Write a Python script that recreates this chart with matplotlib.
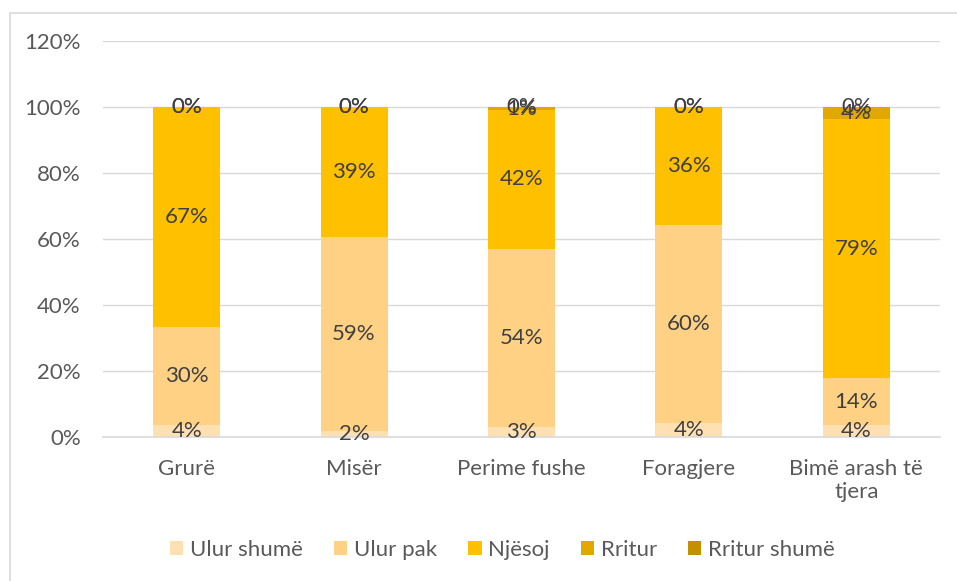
import numpy as np
import matplotlib
matplotlib.use("Agg")
import matplotlib.pyplot as plt
from matplotlib.patches import Rectangle
from matplotlib.ticker import PercentFormatter

plt.rcParams["font.family"] = ["Lato", "DejaVu Sans"]

# =========================
# Data
# =========================
categories = ["Grurë", "Misër", "Perime fushe", "Foragjere", "Bimë arash të\ntjera"]
series_names = ["Ulur shumë", "Ulur pak", "Njësoj", "Rritur", "Rritur shumë"]

ulur_shume = [3.6, 1.8, 2.9, 4.1, 3.6]
ulur_pak = [29.7, 58.8, 54.2, 60.2, 14.2]
njesoj = [66.7, 39.4, 41.9, 35.7, 78.6]
rritur = [0.0, 0.0, 1.0, 0.0, 3.6]
rritur_shume = [0.0, 0.0, 0.0, 0.0, 0.0]

colors = ["#FFE0B2", "#FFD185", "#FFC000", "#E1A800", "#C49000"]

# =========================
# Plot
# =========================
fig = plt.figure(figsize=(9.57, 5.81), dpi=100)
ax = fig.add_axes([0.1076, 0.2478, 0.8746, 0.6816])

# outer frame
fig.patches.append(Rectangle((10 / 957, -0.05), 1.2, 1 - 13 / 581 + 0.05,
                             transform=fig.transFigure, fill=False,
                             edgecolor="#D9D9D9", linewidth=1.2))

x = np.arange(len(categories))
width = 0.4
bottom = np.zeros(len(categories))
all_series = [ulur_shume, ulur_pak, njesoj, rritur, rritur_shume]

for name, vals, col in zip(series_names, all_series, colors):
    vals = np.array(vals)
    ax.bar(x, vals, width, bottom=bottom, color=col, label=name, zorder=2)
    for xi, b, v in zip(x, bottom, vals):
        ax.text(xi, b + v / 2, f"{v:.0f}%", ha="center", va="center",
                fontsize=16, color="#404040", zorder=3)
    bottom += vals

ax.set_xlim(-0.5, len(categories) - 0.5)
ax.set_ylim(0, 120)
ax.set_yticks(np.arange(0, 121, 20))
ax.yaxis.set_major_formatter(PercentFormatter(decimals=0))
ax.set_xticks(x)
ax.set_xticklabels(categories)

ax.grid(axis="y", color="#D9D9D9", linewidth=1, zorder=0)
for s in ["top", "right", "left"]:
    ax.spines[s].set_visible(False)
ax.spines["bottom"].set_color("#D9D9D9")
ax.spines["bottom"].set_linewidth(1.2)
ax.tick_params(axis="both", length=0, labelsize=16, colors="#595959")
ax.tick_params(axis="y", pad=16)
ax.tick_params(axis="x", pad=16)

fig.legend(loc="center", bbox_to_anchor=(0.525, 0.053), ncol=5, frameon=False,
           fontsize=16, handlelength=0.6, handleheight=0.6, handletextpad=0.3,
           columnspacing=1.4, labelcolor="#595959")

fig.savefig("out.png", dpi=100)
